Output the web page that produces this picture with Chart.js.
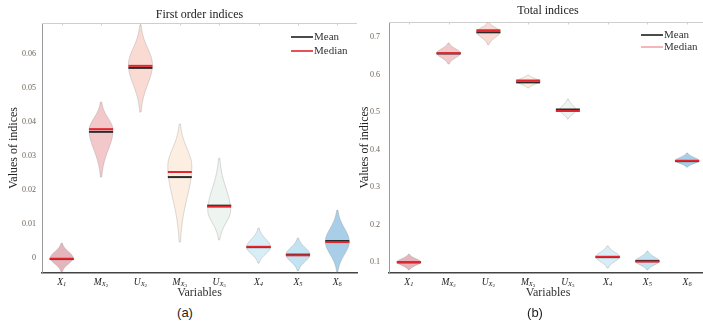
<!DOCTYPE html>
<html>
<head>
<meta charset="utf-8">
<script src="https://cdn.jsdelivr.net/npm/chart.js@4.4.1/dist/chart.umd.min.js"></script>
<style>
  html, body { margin: 0; padding: 0; background: #fff; width: 703px; height: 322px; overflow: hidden; position: relative; }
  canvas { position: absolute; top: 0; }
  #chartA { left: 0; }
  #chartB { left: 350px; }
  .cap { position: absolute; top: 305px; width: 40px; text-align: center; line-height: 16px;
         font: 13px "Liberation Sans", Arial, sans-serif; color: #222; }
</style>
</head>
<body>
<canvas id="chartA" width="362" height="305"></canvas>
<canvas id="chartB" width="357" height="305"></canvas>
<div class="cap" style="left:165px">(a)</div>
<div class="cap" style="left:515px">(b)</div>
<script>
// categories (base letter, subscript, sub-subscript)
var catsA = ['X1', 'MX2', 'UX2', 'MX3', 'UX3', 'X4', 'X5', 'X6'];
var catsB = ['X1', 'MX2', 'UX2', 'MX3', 'UX3', 'X4', 'X5', 'X6'];

// (a) first order indices
var meanA   = [-0.0003, 0.0371, 0.0559, 0.0238, 0.0154, 0.0032, 0.0010, 0.0050];
var medianA = [-0.0002, 0.0379, 0.0565, 0.0253, 0.0151, 0.0033, 0.0008, 0.0047];
var hiA     = [0.0044, 0.0459, 0.0685, 0.0394, 0.0294, 0.0088, 0.0059, 0.0141];
var loA     = [-0.0041, 0.0238, 0.0429, 0.0047, 0.0053, -0.0015, -0.0038, -0.0041];
var peakA   = [0.0000, 0.0376, 0.0568, 0.0270, 0.0140, 0.0032, 0.0010, 0.0048];
var densA   = [0.95, 1, 1, 1, 0.95, 1, 1, 1];
var yTicksA = [0, 0.01, 0.02, 0.03, 0.04, 0.05, 0.06];

// (b) total indices
var meanB   = [0.099, 0.656, 0.7125, 0.579, 0.5067, 0.113, 0.103, 0.369];
var medianB = [0.100, 0.657, 0.718, 0.584, 0.5027, 0.114, 0.101, 0.370];
var hiB     = [0.121, 0.684, 0.740, 0.599, 0.535, 0.143, 0.129, 0.391];
var loB     = [0.079, 0.628, 0.679, 0.564, 0.481, 0.084, 0.079, 0.353];
var peakB   = [0.100, 0.657, 0.714, 0.582, 0.505, 0.114, 0.102, 0.370];
var densB   = [1, 1, 1, 1, 0.7, 1, 1, 1];
var yTicksB = [0.1, 0.2, 0.3, 0.4, 0.5, 0.6, 0.7];

var palette = ['#e4b5bd', '#f2c8ca', '#f9dbd4', '#fcefe1', '#eef4ef', '#d9edf6', '#c1e3f2', '#a8cfe7'];
var serif = '"Liberation Serif", "DejaVu Serif", serif';

Chart.defaults.font.family = serif;

function makeViolins(d) {
  return {
    id: 'violins',
    beforeDatasetsDraw: function(chart) {
      var ctx = chart.ctx, a = chart.chartArea, x = chart.scales.x, y = chart.scales.y;
      ctx.save();
      // light frame on top with small ticks
      ctx.strokeStyle = '#cfcfcf';
      ctx.lineWidth = 1;
      ctx.beginPath();
      ctx.moveTo(a.left, a.top + 0.5);
      ctx.lineTo(a.right, a.top + 0.5);
      for (var k = 0; k < d.lo.length; k++) {
        var tx = Math.round(x.getPixelForValue(k)) + 0.5;
        ctx.moveTo(tx, a.top);
        ctx.lineTo(tx, a.top + 2.5);
      }
      ctx.stroke();

      ctx.beginPath();
      ctx.rect(a.left, a.top, a.right - a.left, a.bottom - a.top);
      ctx.clip();
      for (var i = 0; i < d.lo.length; i++) {
        var cx = x.getPixelForValue(i);
        var top = y.getPixelForValue(d.hi[i]);
        var bot = y.getPixelForValue(d.lo[i]);
        var pk = y.getPixelForValue(d.peak[i]);
        var W = 12 * d.dens[i];
        var half = function(py) {
          var t;
          if (py < pk) t = (pk - top) > 0 ? (pk - py) / (pk - top) : 1;
          else t = (bot - pk) > 0 ? (py - pk) / (bot - pk) : 1;
          return W * Math.exp(-0.5 * Math.pow(t * 2.4, 2));
        };
        ctx.beginPath();
        ctx.moveTo(cx, top);
        for (var py = top; py <= bot; py += 0.5) ctx.lineTo(cx + half(py), py);
        ctx.lineTo(cx, bot);
        for (py = bot; py >= top; py -= 0.5) ctx.lineTo(cx - half(py), py);
        ctx.closePath();
        ctx.fillStyle = palette[i];
        ctx.fill();
        ctx.strokeStyle = 'rgba(140,140,140,0.55)';
        ctx.lineWidth = 0.6;
        ctx.stroke();
      }
      ctx.restore();
    },
    afterDraw: function(chart) {
      var ctx = chart.ctx, a = chart.chartArea, x = chart.scales.x;
      ctx.save();
      // x tick labels with subscripts
      ctx.fillStyle = '#222';
      ctx.textBaseline = 'middle';
      ctx.textAlign = 'left';
      var ly = a.bottom + 9;
      d.cats.forEach(function(lab, i) {
        var base = lab[0];
        var sub = lab.length > 2 ? lab[1] : lab.slice(1);
        var ss = lab.length > 2 ? lab.slice(2) : '';
        var f1 = 'italic 9.5px ' + serif, f2 = 'italic 6.5px ' + serif, f3 = '5px ' + serif;
        ctx.font = f1; var w1 = ctx.measureText(base).width;
        ctx.font = f2; var w2 = ctx.measureText(sub).width;
        ctx.font = f3; var w3 = ctx.measureText(ss).width;
        var sx = x.getPixelForValue(i) - (w1 + w2 + w3) / 2;
        ctx.font = f1; ctx.fillText(base, sx, ly);
        ctx.font = f2; ctx.fillText(sub, sx + w1, ly + 2.5);
        ctx.font = f3; ctx.fillText(ss, sx + w1 + w2, ly + 4);
      });
      // legend
      var lx = a.right - 66, gy = a.top + d.legTop;
      ctx.lineWidth = 1.6;
      ctx.strokeStyle = '#1e1e1e';
      ctx.beginPath(); ctx.moveTo(lx, gy); ctx.lineTo(lx + 22, gy); ctx.stroke();
      ctx.strokeStyle = d.legRed;
      ctx.beginPath(); ctx.moveTo(lx, gy + d.legGap); ctx.lineTo(lx + 22, gy + d.legGap); ctx.stroke();
      ctx.font = '11px ' + serif;
      ctx.fillStyle = '#333';
      ctx.fillText('Mean', lx + 23, gy);
      ctx.fillText('Median', lx + 23, gy + d.legGap);
      ctx.restore();
    }
  };
}

function buildChart(id, cfg) {
  var ctx = document.getElementById(id).getContext('2d');
  return new Chart(ctx, {
    type: 'line',
    data: {
      labels: cfg.cats,
      datasets: [
        {
          label: 'Median',
          data: cfg.median,
          showLine: false,
          pointStyle: 'line',
          pointRadius: 12,
          pointBorderWidth: 2,
          pointBorderColor: '#e3262d',
          order: 0
        },
        {
          label: 'Mean',
          data: cfg.mean,
          showLine: false,
          pointStyle: 'line',
          pointRadius: 12,
          pointBorderWidth: 2,
          pointBorderColor: '#2a2a2a',
          order: 1
        }
      ]
    },
    options: {
      responsive: false,
      devicePixelRatio: 1,
      animation: false,
      events: [],
      layout: { autoPadding: false, padding: { left: 0, right: cfg.padRight, top: 0, bottom: 0 } },
      plugins: {
        legend: { display: false },
        tooltip: { enabled: false },
        title: {
          display: true,
          text: cfg.title,
          fullSize: false,
          color: '#222',
          font: { size: 12, weight: 'normal' },
          padding: cfg.titlePad
        }
      },
      scales: {
        x: {
          type: 'category',
          offset: true,
          grid: { display: false, drawTicks: false },
          border: { color: '#444', width: 1.5 },
          ticks: { display: false },
          title: {
            display: true,
            text: 'Variables',
            color: '#333',
            font: { size: 12 },
            padding: { top: 0, bottom: 4.8 }
          },
          afterFit: function(s) { s.height = 32; }
        },
        y: {
          min: cfg.min,
          max: cfg.max,
          afterBuildTicks: function(s) { s.ticks = cfg.yTicks.map(function(v) { return { value: v }; }); },
          grid: { display: false, drawTicks: false },
          border: { color: '#9a9a9a', width: 1 },
          ticks: {
            padding: cfg.tickPad,
            color: '#6d6456',
            font: { size: 8 },
            callback: function(v) { return String(v); }
          },
          title: {
            display: true,
            text: 'Values of indices',
            color: '#222',
            font: { size: 12 },
            padding: { top: cfg.yTitlePad, bottom: 0 }
          },
          afterFit: function(s) { s.width = cfg.yWidth; }
        }
      }
    },
    plugins: [makeViolins({
      cats: cfg.cats, lo: cfg.lo, hi: cfg.hi, peak: cfg.peak, dens: cfg.dens,
      legTop: cfg.legTop, legGap: cfg.legGap, legRed: cfg.legRed
    })]
  });
}

buildChart('chartA', {
  cats: catsA, mean: meanA, median: medianA, lo: loA, hi: hiA, peak: peakA, dens: densA,
  yTicks: yTicksA, min: -0.0044, max: 0.0691,
  title: 'First order indices', titlePad: { top: 7.8, bottom: 0.8 },
  padRight: 5, yWidth: 42, tickPad: 6, yTitlePad: 7,
  legTop: 14, legGap: 14, legRed: '#e3262d'
});

buildChart('chartB', {
  cats: catsB, mean: meanB, median: medianB, lo: loB, hi: hiB, peak: peakB, dens: densB,
  yTicks: yTicksB, min: 0.0707, max: 0.74,
  title: 'Total indices', titlePad: { top: 3.8, bottom: 3.8 },
  padRight: 0, yWidth: 39, tickPad: 9, yTitlePad: 8,
  legTop: 13, legGap: 12, legRed: '#f4a3a8'
});
</script>
</body>
</html>
